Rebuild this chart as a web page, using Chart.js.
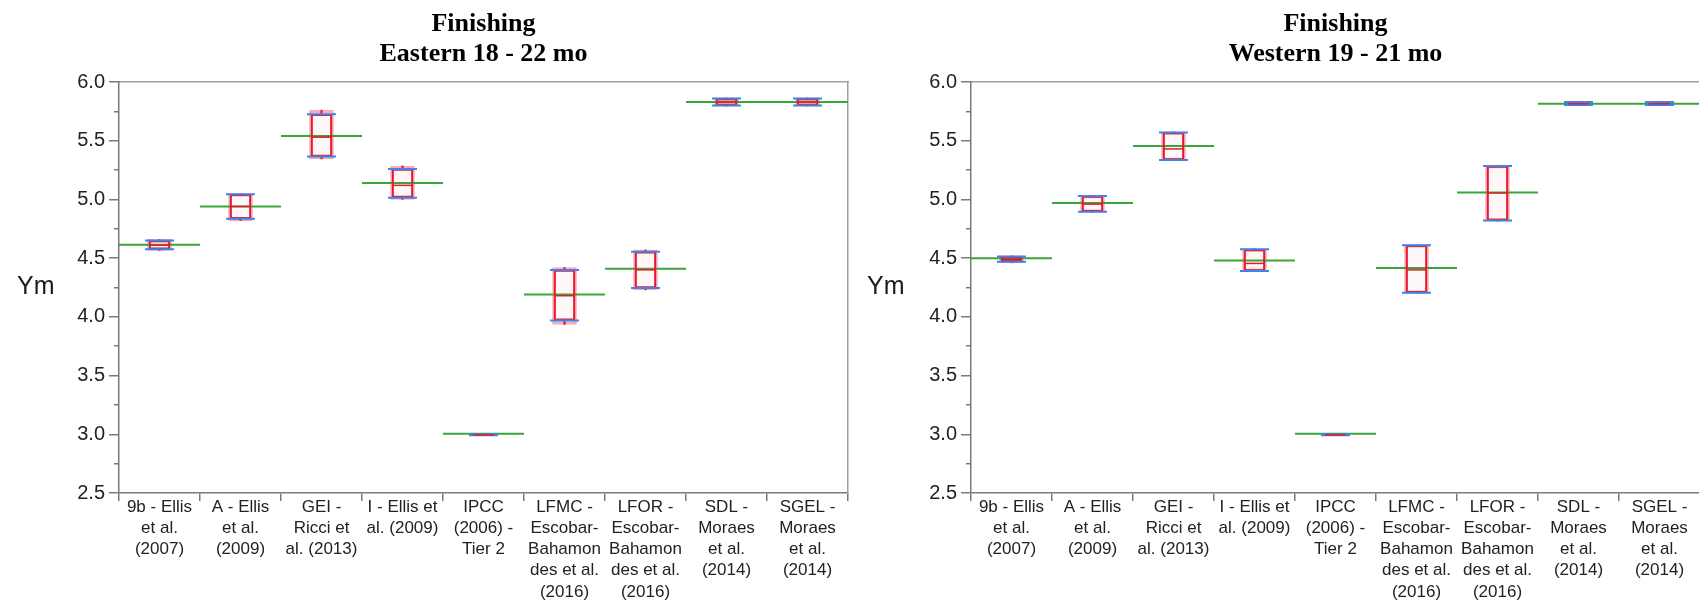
<!DOCTYPE html>
<html>
<head>
<meta charset="utf-8">
<script src="https://cdn.jsdelivr.net/npm/chart.js@4.4.1/dist/chart.umd.min.js"></script>
<style>
body { margin: 0; background: #fff; }
#wrap { position: relative; width: 1699px; height: 601px; overflow: hidden; }
.panel { position: absolute; top: 0; width: 852px; height: 601px; }
.panel canvas { position: absolute; left: 0; top: 0; }
.ylab { position: absolute; left: 17px; top: 273px; font: 25px/25px "Liberation Sans", Arial, sans-serif; color: #1a1a1a; }
</style>
</head>
<body>
<div id="wrap">
    <div class="panel" style="left:0"><canvas id="east" width="850" height="601"></canvas><div class="ylab">Ym</div></div>
    <div class="panel" style="left:850px"><canvas id="west" width="852" height="601"></canvas><div class="ylab">Ym</div></div>
</div>
<script>
var categories = [
    ['9b - Ellis', 'et al.', '(2007)'],
    ['A - Ellis', 'et al.', '(2009)'],
    ['GEI -', 'Ricci et', 'al. (2013)'],
    ['I - Ellis et', 'al. (2009)'],
    ['IPCC', '(2006) -', 'Tier 2'],
    ['LFMC -', 'Escobar-', 'Bahamon', 'des et al.', '(2016)'],
    ['LFOR -', 'Escobar-', 'Bahamon', 'des et al.', '(2016)'],
    ['SDL -', 'Moraes', 'et al.', '(2014)'],
    ['SGEL -', 'Moraes', 'et al.', '(2014)']
];

var yTicks = [2.5, 3.0, 3.5, 4.0, 4.5, 5.0, 5.5, 6.0];

// Eastern 18 - 22 mo
var eastLo   = [4.565, 4.82, 5.345, 5.00, 2.99, 3.935, 4.23, 5.795, 5.795];
var eastQ1   = [4.575, 4.835, 5.365, 5.015, 2.992, 3.97, 4.245, 5.80, 5.80];
var eastMed  = [4.61, 4.94, 5.53, 5.12, 2.995, 4.18, 4.40, 5.83, 5.83];
var eastQ3   = [4.65, 5.045, 5.725, 5.26, 2.998, 4.40, 4.555, 5.86, 5.86];
var eastHi   = [4.66, 5.05, 5.76, 5.285, 3.0, 4.42, 4.57, 5.865, 5.865];
var eastMean = [4.615, 4.94, 5.54, 5.14, 3.005, 4.19, 4.41, 5.83, 5.83];

// Western 19 - 21 mo
var westLo   = [4.46, 4.89, 5.33, 4.385, 2.99, 4.20, 4.815, 5.80, 5.80];
var westQ1   = [4.47, 4.895, 5.335, 4.39, 2.992, 4.205, 4.82, 5.805, 5.805];
var westMed  = [4.49, 4.96, 5.43, 4.455, 2.995, 4.40, 5.055, 5.815, 5.815];
var westQ3   = [4.515, 5.03, 5.57, 4.575, 2.998, 4.61, 5.285, 5.83, 5.83];
var westHi   = [4.52, 5.035, 5.575, 4.58, 3.0, 4.615, 5.29, 5.83, 5.83];
var westMean = [4.50, 4.97, 5.455, 4.48, 3.005, 4.415, 5.06, 5.815, 5.815];

var red = '#e8192c',
    pink = 'rgba(236,70,100,0.45)',
    green = '#3aa53a',
    blue = '#3d85ea',
    axisGrey = '#7a7a7a',
    frameGrey = '#a0a0a0',
    sans = '"Liberation Sans", Arial, sans-serif';

function pairs(a, b) {
    return a.map(function(v, i) {
        return [v, b[i]];
    });
}

function isLabelled(v) {
    return yTicks.some(function(t) { return Math.abs(t - v) < 1e-6; });
}

function makeChart(id, title, lo, q1, med, q3, hi, mean, leftW, rightW) {

    var ctx = document.getElementById(id).getContext('2d');

    new Chart(ctx, {
        type: 'bar',
        data: {
            labels: categories,
            datasets: [
                // pink whisker range
                { type: 'bar', data: pairs(lo, hi), grouped: false, barThickness: 24,
                  backgroundColor: 'rgba(240,90,120,0.05)', borderColor: pink, borderWidth: 2.5,
                  borderSkipped: false, order: 9 },
                // mean line across the category
                { type: 'line', data: mean, showLine: false, pointStyle: 'line', pointRadius: 40.5,
                  pointBorderWidth: 2, pointBorderColor: green, order: 8 },
                // whisker stems
                { type: 'bar', data: pairs(q3, hi), grouped: false, barThickness: 1.5,
                  backgroundColor: red, borderWidth: 0, order: 6 },
                { type: 'bar', data: pairs(lo, q1), grouped: false, barThickness: 1.5,
                  backgroundColor: red, borderWidth: 0, order: 6 },
                // quartile box
                { type: 'bar', data: pairs(q1, q3), grouped: false, barThickness: 21,
                  backgroundColor: 'rgba(0,0,0,0)', borderColor: red, borderWidth: 1.5,
                  borderSkipped: false, order: 5 },
                // blue caps
                { type: 'line', data: q1, showLine: false, pointStyle: 'line', pointRadius: 14.5,
                  pointBorderWidth: 2, pointBorderColor: blue, order: 4 },
                { type: 'line', data: q3, showLine: false, pointStyle: 'line', pointRadius: 14.5,
                  pointBorderWidth: 2, pointBorderColor: blue, order: 4 },
                // median
                { type: 'line', data: med, showLine: false, pointStyle: 'line', pointRadius: 10.5,
                  pointBorderWidth: 1.5, pointBorderColor: red, order: 3 }
            ]
        },
        options: {
            responsive: false,
            animation: false,
            events: [],
            layout: { padding: 0, autoPadding: false },
            plugins: {
                legend: { display: false },
                tooltip: { enabled: false }
            },
            scales: {
                x: {
                    position: 'bottom',
                    offset: true,
                    grid: { display: true, offset: true, drawOnChartArea: false, tickLength: 8,
                            color: axisGrey, lineWidth: 1.5 },
                    border: { color: axisGrey, width: 1.5 },
                    ticks: { maxRotation: 0, autoSkip: false, padding: -4, color: '#222',
                             font: { family: sans, size: 17, lineHeight: 1.24 } },
                    afterFit: function(s) { s.height = 108; }
                },
                xTop: {
                    type: 'category',
                    position: 'top',
                    grid: { display: false },
                    ticks: { display: false },
                    border: { color: frameGrey, width: 1.5 },
                    title: { display: true, text: title, color: '#000',
                             font: { family: '"Liberation Serif", "Times New Roman", serif', size: 26,
                                     weight: 'bold', lineHeight: 1.154 },
                             padding: { top: 9.5, bottom: 0 } },
                    afterFit: function(s) { s.height = 82; }
                },
                y: {
                    position: 'left',
                    min: 2.5,
                    max: 6.0,
                    ticks: {
                        stepSize: 0.25,
                        autoSkip: false,
                        padding: 4,
                        color: '#222',
                        font: { family: sans, size: 20 },
                        callback: function(v) { return isLabelled(v) ? v.toFixed(1) : ''; }
                    },
                    grid: {
                        drawOnChartArea: false,
                        tickLength: 10,
                        color: axisGrey,
                        lineWidth: 1.5,
                        tickBorderDash: function(c) { return isLabelled(c.tick.value) ? [] : [5, 5]; },
                        tickBorderDashOffset: function(c) { return isLabelled(c.tick.value) ? 0 : 5; }
                    },
                    border: { color: axisGrey, width: 1.5 },
                    afterFit: function(s) { s.width = leftW; }
                },
                yRight: {
                    position: 'right',
                    min: 2.5,
                    max: 6.0,
                    ticks: { display: false },
                    grid: { display: false },
                    border: { color: frameGrey, width: 1.5 },
                    afterFit: function(s) { s.width = rightW; }
                }
            }
        }
    });
}

makeChart('east', ['Finishing', 'Eastern 18 - 22 mo'],
    eastLo, eastQ1, eastMed, eastQ3, eastHi, eastMean, 119, 2);

makeChart('west', ['Finishing', 'Western 19 - 21 mo'],
    westLo, westQ1, westMed, westQ3, westHi, westMean, 121, 2);
</script>
</body>
</html>
